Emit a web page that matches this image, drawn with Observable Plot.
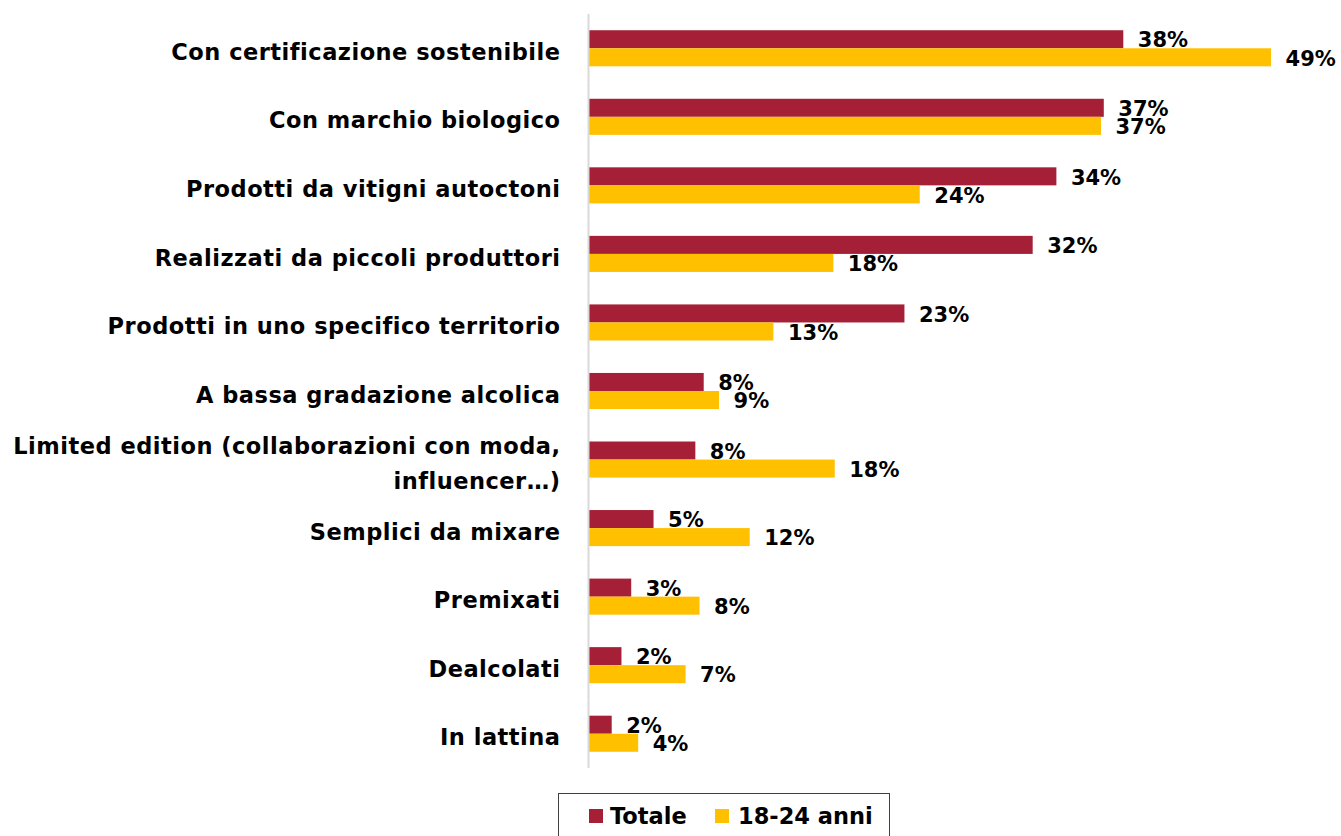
<!DOCTYPE html>
<html><head><meta charset="utf-8">
<script src="https://cdn.jsdelivr.net/npm/d3@7"></script>
<script src="https://cdn.jsdelivr.net/npm/@observablehq/plot@0.6"></script>
<style>
body{margin:0;background:#fff;font-family:"DejaVu Sans",sans-serif;}
#wrap{position:relative;width:1341px;height:836px;overflow:hidden;background:#fff;}
#legend{position:absolute;left:558px;top:793px;width:332px;height:60px;border:1.5px solid #404040;box-sizing:border-box;}
.sw{position:absolute;top:15px;width:14px;height:14px;}
.lt{position:absolute;top:9px;font-size:22.5px;font-weight:bold;color:#000;line-height:26px;white-space:nowrap;}
#chart g[aria-label="fy-axis tick label"]{letter-spacing:0.5px;}
</style></head>
<body>
<div id="wrap"><div id="chart"></div><div id="legend"></div></div>
<script>
const categories = [
  "Con certificazione sostenibile",
  "Con marchio biologico",
  "Prodotti da vitigni autoctoni",
  "Realizzati da piccoli produttori",
  "Prodotti in uno specifico territorio",
  "A bassa gradazione alcolica",
  "Limited edition (collaborazioni con moda,\ninfluencer…)",
  "Semplici da mixare",
  "Premixati",
  "Dealcolati",
  "In lattina"
];
const series = ["Totale", "18-24 anni"];
const colors = ["#A51F36", "#FFC000"];
const totale  = [38.4, 37.0, 33.6, 31.9, 22.7, 8.3, 7.7, 4.7, 3.1, 2.4, 1.7];
const giovani = [49.0, 36.8, 23.8, 17.6, 13.3, 9.4, 17.7, 11.6, 8.0, 7.0, 3.6];

const data = categories.flatMap((c, i) => [
  {cat: c, series: series[0], value: totale[i]},
  {cat: c, series: series[1], value: giovani[i]}
]);

const chart = Plot.plot({
  width: 1341, height: 785,
  marginLeft: 588, marginRight: 56, marginTop: 14, marginBottom: 17,
  x: {domain: [0, 50], axis: null},
  y: {domain: series, paddingInner: 0, paddingOuter: 0.9, round: false, axis: null},
  fy: {domain: categories, padding: 0, round: false},
  color: {domain: series, range: colors},
  style: {fontFamily: "DejaVu Sans", background: "white", color: "black"},
  marks: [
    Plot.barX(data, {x: "value", y: "series", fy: "cat", fill: "series"}),
    Plot.ruleX([0], {stroke: "#d9d9d9", strokeWidth: 2}),
    Plot.text(data, {x: "value", y: "series", fy: "cat", text: d => Math.round(d.value) + "%",
      textAnchor: "start", dx: 14, dy: 1, fontSize: 21, fontWeight: "bold", fill: "black"}),
    Plot.axisFy({anchor: "left", tickSize: 0, tickPadding: 28, fontSize: 22.5, fontWeight: "bold",
      lineHeight: 1.55, label: null, fill: "black"})
  ]
});
document.getElementById("chart").appendChild(chart);

const legend = document.getElementById("legend");
const pos = [[30, 51], [156, 179]];
series.forEach((s, i) => {
  const sw = document.createElement("div");
  sw.className = "sw"; sw.style.left = pos[i][0] + "px"; sw.style.background = colors[i];
  const t = document.createElement("div");
  t.className = "lt"; t.style.left = pos[i][1] + "px"; t.textContent = s;
  legend.appendChild(sw); legend.appendChild(t);
});
</script>
</body></html>
